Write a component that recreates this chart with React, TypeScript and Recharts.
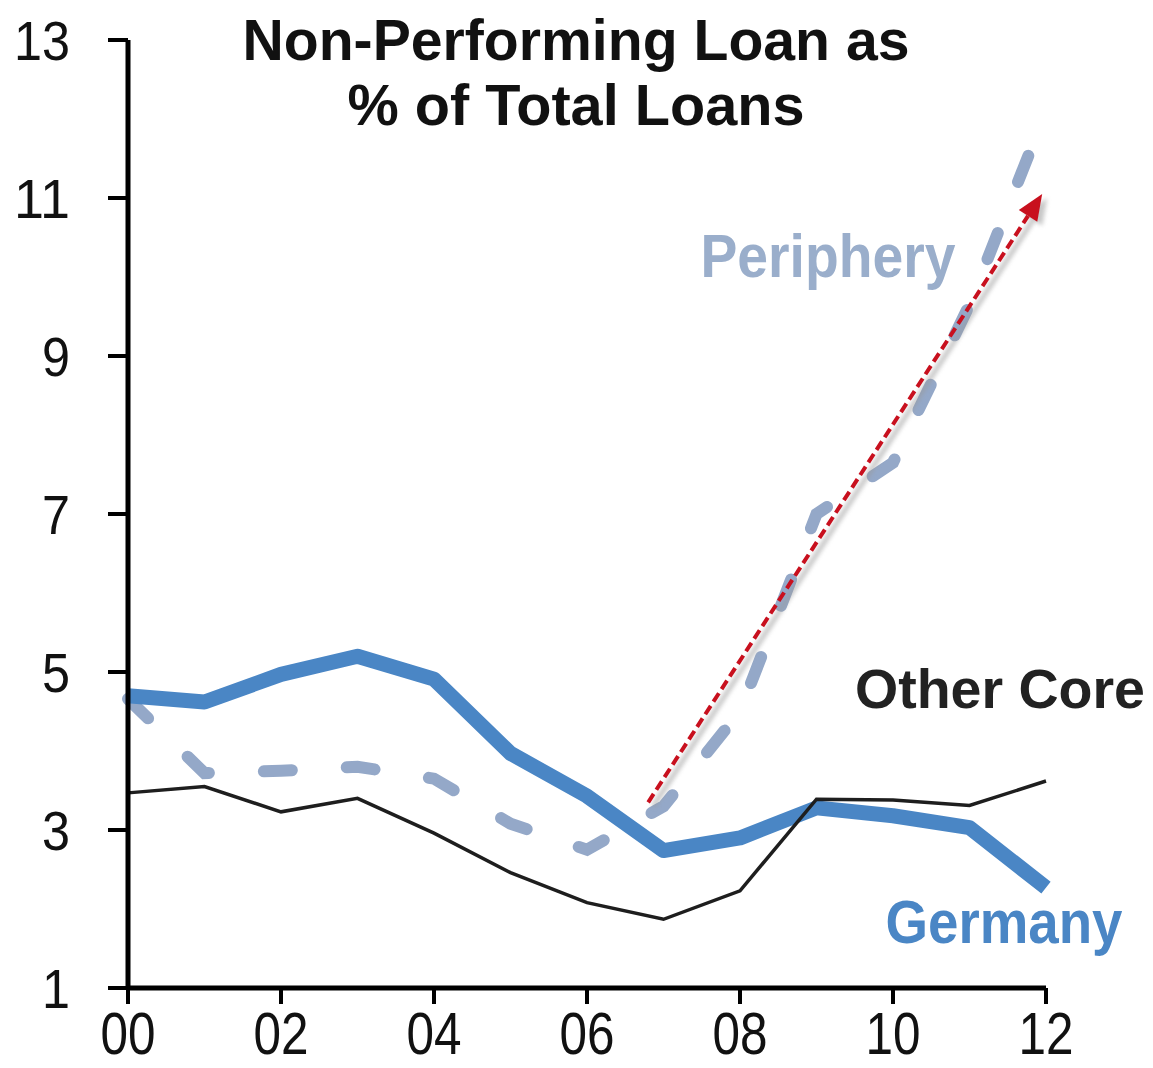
import React from 'react'
import { LineChart, Line, XAxis, YAxis, ReferenceLine } from 'recharts'

// year offsets (2000 = 0)
const years = [0, 1, 2, 3, 4, 5, 6, 7, 8, 9, 10, 11, 12]
const germany = [4.7, 4.62, 4.97, 5.2, 4.91, 3.97, 3.43, 2.74, 2.9, 3.28, 3.18, 3.03, 2.27]
const otherCore = [3.47, 3.55, 3.23, 3.4, 2.96, 2.46, 2.08, 1.87, 2.23, 3.39, 3.38, 3.31, 3.62]
const periphery = [4.66, 3.72, 3.75, 3.8, 3.65, 3.08, 2.75, 3.3, 4.5, 7.0, 7.65, 9.65, 12.1]

const xTicks = [0, 2, 4, 6, 8, 10, 12]
const yTicks = [1, 3, 5, 7, 9, 11, 13]

// trend arrow, in data units: [year, value]
const arrowFrom = [6.8, 3.35]
const arrowTo = [11.95, 11.05]

const data = years.map((year, i) => ({
    year,
    germany: germany[i],
    otherCore: otherCore[i],
    periphery: periphery[i],
}))

const FONT = '"Liberation Sans", Arial, sans-serif'

const YTick = (props: any) => {
    const { x, y, payload } = props
    const label = String(payload.value)
    return (
        <text
            x={x}
            y={y + 20}
            textAnchor='end'
            fontFamily={FONT}
            fontSize={56}
            fill='#111'
            textLength={label.length * 28}
            lengthAdjust='spacingAndGlyphs'
        >
            {label}
        </text>
    )
}

const XTick = (props: any) => {
    const { x, y, payload } = props
    const label = String(payload.value).padStart(2, '0')
    return (
        <text
            x={x}
            y={y + 42}
            textAnchor='middle'
            fontFamily={FONT}
            fontSize={60}
            fill='#111'
            textLength={55}
            lengthAdjust='spacingAndGlyphs'
        >
            {label}
        </text>
    )
}

const Arrow = (props: any) => {
    const { x1, y1, x2, y2 } = props
    const ang = Math.atan2(y2 - y1, x2 - x1)
    const headLen = 26
    const headHalf = 11
    const bx = x2 - headLen * Math.cos(ang)
    const by = y2 - headLen * Math.sin(ang)
    const px = -Math.sin(ang) * headHalf
    const py = Math.cos(ang) * headHalf
    const head = `${x2},${y2} ${bx + px},${by + py} ${bx - px},${by - py}`
    return (
        <g>
            <defs>
                <filter id='arrowShadow' x='-20%' y='-20%' width='140%' height='140%'>
                    <feGaussianBlur stdDeviation='2' />
                </filter>
            </defs>
            <g transform='translate(5,4)' filter='url(#arrowShadow)' opacity={0.55}>
                <line x1={x1} y1={y1} x2={bx} y2={by} stroke='#9a9a9a' strokeWidth={5} />
                <polygon points={head} fill='#9a9a9a' />
            </g>
            <line
                x1={x1}
                y1={y1}
                x2={bx}
                y2={by}
                stroke='#c8101e'
                strokeWidth={4}
                strokeDasharray='10 5'
            />
            <polygon points={head} fill='#c8101e' />
        </g>
    )
}

export default function App() {
    return (
        <div
            style={{
                position: 'absolute',
                left: 0,
                top: 0,
                width: 1153,
                height: 1068,
                background: '#fff',
            }}
        >
            <LineChart
                width={1153}
                height={1068}
                data={data}
                margin={{ top: 40, right: 107, bottom: 0, left: 28 }}
            >
                <XAxis
                    dataKey='year'
                    type='number'
                    domain={[0, 12]}
                    ticks={xTicks}
                    interval={0}
                    axisLine={{ stroke: '#000', strokeWidth: 5 }}
                    tickLine={{ stroke: '#000', strokeWidth: 4 }}
                    tickSize={16}
                    tickMargin={8}
                    tick={<XTick />}
                    height={80}
                />
                <YAxis
                    type='number'
                    domain={[1, 13]}
                    ticks={yTicks}
                    interval={0}
                    axisLine={{ stroke: '#000', strokeWidth: 5 }}
                    tickLine={{ stroke: '#000', strokeWidth: 4 }}
                    tickSize={20}
                    tickMargin={38}
                    tick={<YTick />}
                    width={100}
                />
                <Line
                    dataKey='periphery'
                    type='linear'
                    stroke='#94a8c8'
                    strokeWidth={12}
                    strokeDasharray='28 55'
                    strokeLinecap='round'
                    dot={false}
                    isAnimationActive={false}
                />
                <Line
                    dataKey='germany'
                    type='linear'
                    stroke='#4a86c5'
                    strokeWidth={15}
                    strokeLinejoin='round'
                    dot={false}
                    isAnimationActive={false}
                />
                <Line
                    dataKey='otherCore'
                    type='linear'
                    stroke='#1e1e1e'
                    strokeWidth={3.5}
                    dot={false}
                    isAnimationActive={false}
                />
                <ReferenceLine
                    segment={[
                        { x: arrowFrom[0], y: arrowFrom[1] },
                        { x: arrowTo[0], y: arrowTo[1] },
                    ]}
                    shape={(p: any) => <Arrow {...p} />}
                />
            </LineChart>
            <svg
                width={1153}
                height={1068}
                style={{ position: 'absolute', left: 0, top: 0, pointerEvents: 'none' }}
            >
                <g fontFamily={FONT} fontWeight='bold' textAnchor='middle'>
                    <text x={576} y={60} fontSize={58} fill='#111' textLength={667} lengthAdjust='spacingAndGlyphs'>
                        Non-Performing Loan as
                    </text>
                    <text x={576} y={125} fontSize={58} fill='#111' textLength={457} lengthAdjust='spacingAndGlyphs'>
                        % of Total Loans
                    </text>
                    <text x={828} y={277} fontSize={62} fill='#9aaecb' textLength={255} lengthAdjust='spacingAndGlyphs'>
                        Periphery
                    </text>
                    <text x={1000} y={708} fontSize={55} fill='#222' textLength={290} lengthAdjust='spacingAndGlyphs'>
                        Other Core
                    </text>
                    <text x={1004} y={943} fontSize={62} fill='#4a86c5' textLength={237} lengthAdjust='spacingAndGlyphs'>
                        Germany
                    </text>
                </g>
            </svg>
        </div>
    )
}
